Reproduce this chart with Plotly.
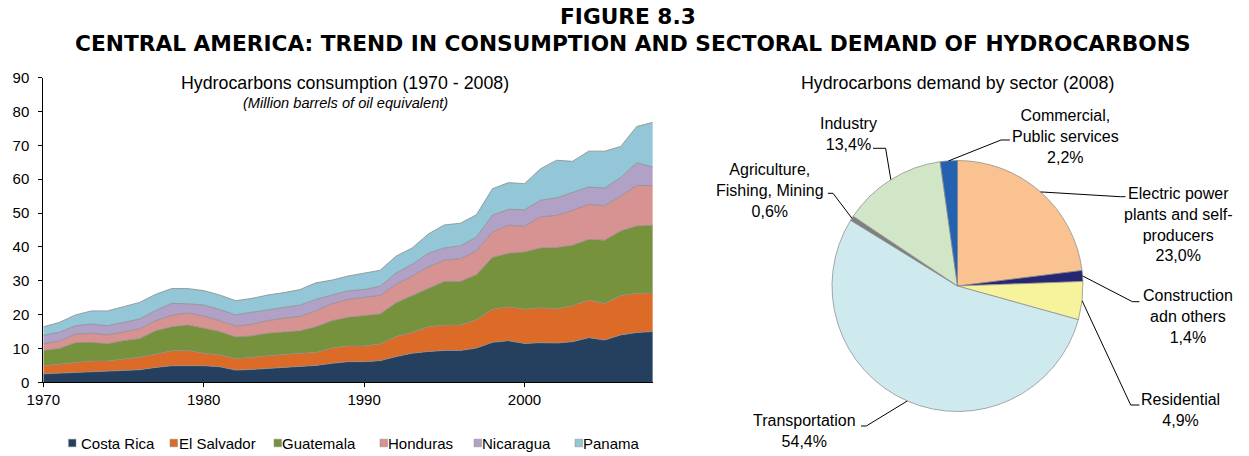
import math
import plotly.graph_objects as go

W, H = 1249, 456

# ---- Hydrocarbons consumption by country, 1970-2008 (million barrels of oil equivalent)
years = list(range(1970, 2009))
costa_rica = [2.5, 2.7, 3.0, 3.1, 3.2, 3.5, 3.7, 4.4, 4.9, 4.9,
              4.9, 4.6, 3.6, 3.8, 4.1, 4.4, 4.6, 5.0, 5.6, 6.1,
              6.1, 6.4, 7.6, 8.6, 9.1, 9.4, 9.4, 10.1, 11.8, 12.3,
              11.5, 11.7, 11.6, 12.0, 13.2, 12.5, 14.0, 14.7, 15.0]
el_salvador = [2.4, 2.7, 2.8, 3.2, 3.1, 3.3, 3.7, 3.9, 4.4, 4.5,
               3.7, 3.5, 3.4, 3.6, 3.6, 3.8, 4.0, 3.8, 4.5, 4.6,
               4.6, 4.9, 5.9, 6.1, 7.3, 7.5, 7.5, 8.4, 9.8, 10.0,
               10.1, 10.3, 10.1, 10.6, 11.1, 10.8, 11.6, 11.6, 11.4]
guatemala = [4.5, 4.6, 5.9, 5.5, 5.1, 5.5, 5.5, 6.9, 7.1, 7.5,
             7.4, 6.9, 6.4, 6.3, 6.8, 6.7, 6.6, 7.6, 8.1, 8.5,
             8.9, 8.9, 10.0, 10.8, 11.3, 12.9, 12.9, 13.3, 15.3, 15.8,
             16.9, 17.7, 18.1, 17.9, 17.9, 18.7, 19.1, 19.9, 20.0]
honduras = [2.0, 2.2, 2.5, 2.7, 2.6, 2.7, 2.9, 3.0, 3.4, 3.6,
            3.6, 3.2, 3.2, 3.4, 3.7, 4.1, 4.2, 4.7, 5.0, 5.3,
            5.4, 5.5, 5.5, 5.9, 6.4, 6.3, 6.7, 7.0, 7.5, 8.3,
            7.6, 9.2, 9.5, 10.3, 10.4, 10.2, 10.3, 12.0, 11.7]
nicaragua = [2.5, 2.6, 2.5, 2.7, 2.7, 2.7, 2.9, 3.0, 3.5, 2.7,
             3.2, 3.3, 3.3, 3.6, 3.3, 3.1, 3.4, 3.4, 2.6, 2.5,
             2.4, 2.7, 3.3, 3.5, 4.0, 3.6, 3.8, 4.1, 5.0, 4.7,
             4.9, 4.9, 5.2, 5.2, 5.1, 5.2, 5.5, 6.7, 5.5]
panama = [2.5, 2.9, 3.2, 3.9, 4.4, 4.6, 4.9, 4.8, 4.4, 4.5,
          4.3, 4.3, 4.2, 4.1, 4.3, 4.4, 4.6, 4.9, 4.4, 4.4,
          4.8, 4.7, 5.0, 4.8, 5.7, 6.8, 6.7, 6.6, 7.8, 7.9,
          7.7, 9.3, 11.1, 9.3, 10.6, 10.9, 9.2, 10.7, 13.2]

countries = ["Costa Rica", "El Salvador", "Guatemala", "Honduras", "Nicaragua", "Panama"]
country_series = [costa_rica, el_salvador, guatemala, honduras, nicaragua, panama]
country_colors = ["#253F5E", "#DB6B27", "#77923C", "#D79391", "#B2A1C6", "#93C7D7"]

# ---- Hydrocarbons demand by sector, 2008 (%)
sectors = ["Electric power plants and self-producers", "Construction adn others",
           "Residential", "Transportation", "Agriculture, Fishing, Mining",
           "Industry", "Commercial, Public services"]
sector_shares = [23.0, 1.4, 4.9, 54.4, 0.6, 13.4, 2.2]
sector_label_lines = [["Electric power", "plants and self-", "producers"],
                      ["Construction", "adn others"],
                      ["Residential"],
                      ["Transportation"],
                      ["Agriculture,", "Fishing, Mining"],
                      ["Industry"],
                      ["Commercial,", "Public services"]]
sector_colors = ["#FAC291", "#262673", "#F7F39C", "#CFEAEF", "#7F7F7F", "#D0E6C6", "#2462B1"]

FONT = "Liberation Sans, Arial, sans-serif"


def fx(x):
    return x / W


def fy(y):
    return 1 - y / H


fig = go.Figure()

# stacked area chart
for name, vals, col in zip(countries, country_series, country_colors):
    fig.add_trace(go.Scatter(
        x=years, y=vals, name=name, stackgroup="one", mode="lines",
        line=dict(color="#8C8C8C", width=0.8), fillcolor=col,
        showlegend=False, xaxis="x", yaxis="y"))

# pie chart
pcx, pcy, pr = 957.5, 286.0, 125.5
fig.add_trace(go.Pie(
    labels=sectors, values=sector_shares, sort=False, direction="clockwise",
    rotation=0, textinfo="none", showlegend=False,
    marker=dict(colors=sector_colors, line=dict(color="#8C8C8C", width=0.75)),
    domain=dict(x=[fx(pcx - pr), fx(pcx + pr)], y=[fy(pcy + pr), fy(pcy - pr)])))

annotations = []
shapes = []


def text(x, y, s, size, bold=False, italic=False, family=FONT, xanchor="center"):
    annotations.append(dict(
        x=fx(x), y=fy(y), xref="paper", yref="paper", text=s, showarrow=False,
        xanchor=xanchor, yanchor="middle", align="center",
        font=dict(family=family, size=size, color="#000000",
                  weight="bold" if bold else "normal",
                  style="italic" if italic else "normal")))


# headings
text(628, 17, "FIGURE 8.3", 21.7, bold=True, family="DejaVu Sans, sans-serif")
text(633, 44, "CENTRAL AMERICA: TREND IN CONSUMPTION AND SECTORAL DEMAND OF HYDROCARBONS",
     21.7, bold=True, family="DejaVu Sans, sans-serif")
text(345, 83, "Hydrocarbons consumption (1970 - 2008)", 17.8)
text(345, 103, "(Million barrels of oil equivalent)", 14.6, italic=True)
text(957, 83, "Hydrocarbons demand by sector (2008)", 17.8)

# legend for the area chart
legend_pos = [(68.5, 79), (170, 176.5), (274, 279.5), (380, 386), (474, 479.5), (575, 580.5)]
ly = 443
for (sq, tx), name, col in zip(legend_pos, countries, country_colors):
    shapes.append(dict(type="rect", xref="paper", yref="paper",
                       x0=fx(sq), x1=fx(sq + 7.5), y0=fy(ly + 3.8), y1=fy(ly - 3.8),
                       fillcolor=col, line=dict(color="#8C8C8C", width=0.5)))
    text(tx, ly, name, 15, xanchor="left")

# pie labels with leader lines
label_centers = [(1178, 224), (1188.4, 316), (1180.7, 410), (804, 431),
                 (770, 190), (848.8, 134), (1065.9, 136.3)]
leader_ends = [((1125.4, 196.7), (1120.2, 196.7)),
               ((1139.4, 301.7), (1132.4, 301.7)),
               ((1139.4, 405.0), (1130.7, 405.0)),
               ((861.0, 426.0), (866.3, 426.0)),
               ((827.8, 193.3), (833.0, 193.3)),
               ((873.0, 148.3), (885.6, 148.3)),
               ((1009.9, 140.0), (1001.0, 140.0))]
total = sum(sector_shares)
cum = 0.0
for lines, share, (lx, lyy), (p0, p1) in zip(sector_label_lines, sector_shares,
                                              label_centers, leader_ends):
    pct = f"{share:.1f}".replace(".", ",") + "%"
    text(lx, lyy, "<br>".join(lines + [pct]), 16)
    mid = (cum + share / 2) / total * 2 * math.pi
    ax, ay = pcx + pr * math.sin(mid), pcy - pr * math.cos(mid)
    cum += share
    path = (f"M {fx(p0[0])} {fy(p0[1])} L {fx(p1[0])} {fy(p1[1])} "
            f"L {fx(ax)} {fy(ay)}")
    shapes.append(dict(type="path", xref="paper", yref="paper", path=path,
                       line=dict(color="#000000", width=1)))

axis_font = dict(family=FONT, size=15, color="#000000")
fig.update_layout(
    width=W, height=H, autosize=False,
    margin=dict(l=0, r=0, t=0, b=0, autoexpand=False),
    paper_bgcolor="#FFFFFF", plot_bgcolor="#FFFFFF",
    font=dict(family=FONT, color="#000000"),
    xaxis=dict(domain=[fx(43.3), fx(652.8)], range=[1970, 2008],
               tickvals=[1970, 1980, 1990, 2000], ticks="outside", ticklen=4,
               tickcolor="#000000", showline=True, linecolor="#000000", linewidth=1,
               showgrid=False, zeroline=False, tickfont=axis_font, anchor="y",
               automargin=False),
    yaxis=dict(domain=[fy(382.3), fy(77.7)], range=[0, 90], dtick=10,
               ticks="outside", ticklen=4, tickcolor="#000000",
               showline=True, linecolor="#000000", linewidth=1,
               showgrid=False, zeroline=False, tickfont=axis_font,
               ticklabelstandoff=6, anchor="x", automargin=False),
    annotations=annotations,
    shapes=shapes,
    showlegend=False,
)

fig.write_html("out.html")
